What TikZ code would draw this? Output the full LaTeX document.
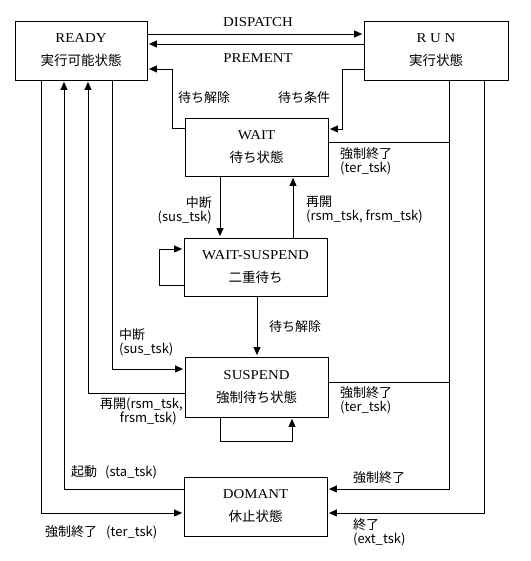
\documentclass[tikz,border=0pt]{standalone}
\usepackage{fontspec}
\newfontfamily\jp{Noto Sans CJK JP}
\newfontfamily\lat[FakeStretch=1.1]{Liberation Serif}
\usetikzlibrary{arrows.meta}
\begin{document}
\begin{tikzpicture}[x=1bp,y=-1bp,
  box/.style={draw,line width=0.8bp,inner sep=0,align=center,font=\jp\fontsize{13.5bp}{23bp}\selectfont},
  lab/.style={inner sep=0,font=\jp\fontsize{13bp}{14bp}\selectfont},
  latlab/.style={inner sep=0,font=\lat\fontsize{13.5bp}{14bp}\selectfont},
  conn/.style={line width=0.8bp},
  arr/.style={conn,-{Triangle[length=8bp,width=7bp]},shorten >=1.5bp},
]
\fill[white] (0,0) rectangle (531,561);
\useasboundingbox (0,0) rectangle (531,561);

% boxes
\node[box,minimum width=132bp,minimum height=59bp] (ready) at (81,50.5) {{\lat READY}\\実行可能状態};
\node[box,minimum width=144bp,minimum height=59bp] (run) at (436,50.5) {{\lat R U N}\\実行状態};
\node[box,minimum width=143bp,minimum height=58bp] (wait) at (256.5,147) {{\lat WAIT}\\待ち状態};
\node[box,minimum width=143bp,minimum height=58bp] (ws) at (255.5,267) {{\lat WAIT-SUSPEND}\\二重待ち};
\node[box,minimum width=143bp,minimum height=60bp] (susp) at (256.5,387) {{\lat SUSPEND}\\強制待ち状態};
\node[box,minimum width=143bp,minimum height=59bp] (dom) at (255.5,506.5) {{\lat DOMANT}\\休止状態};

% connectors
\draw[arr] ([yshift=16.5bp]ready.east) -- ([yshift=16.5bp]run.west);
\draw[arr] ([yshift=6.5bp]run.west) -- ([yshift=6.5bp]ready.east);
\draw[arr] ([yshift=19bp]wait.west) -| ([xshift=25bp,yshift=-18.5bp]ready.east) -- ([yshift=-18.5bp]ready.east);
\draw[arr] ([yshift=-18.5bp]run.west) -| ([xshift=14bp,yshift=18bp]wait.east) -- ([yshift=18bp]wait.east);
\draw[arr] ([xshift=-36.5bp]wait.south) -- ([xshift=-36.5bp]wait.south |- ws.north);
\draw[arr] ([xshift=37.5bp]ws.north) -- ([xshift=37.5bp]ws.north |- wait.south);
\draw[arr] ([yshift=-18bp]ws.west) -- ++(-24,0) |- ([yshift=18bp]ws.west);
\draw[arr] ([xshift=1.5bp]ws.south) -- ([xshift=1.5bp]ws.south |- susp.north);
\draw[arr] ([xshift=31bp]ready.south) |- ([yshift=18bp]susp.west);
\draw[arr] ([yshift=-6bp]susp.west) -| ([xshift=7bp]ready.south);
\draw[arr] ([xshift=-36.5bp]susp.south) -- ++(0,24) -| ([xshift=35.5bp]susp.south);
\draw[arr] ([yshift=17.5bp]dom.west) -| ([xshift=-17bp]ready.south);
\draw[arr] ([xshift=-40bp]ready.south) |- ([yshift=-6.5bp]dom.west);
\coordinate (rk) at ([xshift=13bp]run.south);
\draw[arr] (rk) |- ([yshift=17.5bp]dom.east);
\draw[conn] ([yshift=5bp]wait.east) -- ([yshift=5bp]wait.east -| rk);
\draw[conn] ([yshift=5bp]susp.east) -- ([yshift=5bp]susp.east -| rk);
\draw[arr] ([xshift=48bp]run.south) |- ([yshift=-6.5bp]dom.east);

% labels
\node[latlab] (ldisp) at (258,22) {DISPATCH};
\node[latlab] (lprem) at (258,58) {PREMENT};
\node[lab,anchor=west] (l1) at (178,98) {待ち解除};
\node[lab,anchor=west] (l2) at (278,98) {待ち条件};
\node[lab,anchor=west,align=left] (l3) at (340,161.5) {強制終了\\(ter\_tsk)};
\node[lab,anchor=east,align=right] (l4) at (212,210) {中断\\(sus\_tsk)};
\node[lab,anchor=west,align=left] (l5) at (306,210) {再開\\(rsm\_tsk, frsm\_tsk)};
\node[lab,anchor=west] (l6) at (269,327) {待ち解除};
\node[lab,anchor=west,align=left] (l7) at (119,342.5) {中断\\(sus\_tsk)};
\node[lab,anchor=east,align=right] (l8) at (183,411.5) {再開(rsm\_tsk,\\frsm\_tsk)\hspace*{6bp}};
\node[lab,anchor=west,align=left] (l9) at (340,400.5) {強制終了\\(ter\_tsk)};
\node[lab,anchor=west] (l10) at (71,472) {起動\hspace{8bp}(sta\_tsk)};
\node[lab,anchor=west] (l11) at (45,532) {強制終了\hspace{9bp}(ter\_tsk)};
\node[lab,anchor=west] (l12) at (353,478) {強制終了};
\node[lab,anchor=west,align=left] (l13) at (353,532.5) {終了\\(ext\_tsk)};
\end{tikzpicture}
\end{document}
